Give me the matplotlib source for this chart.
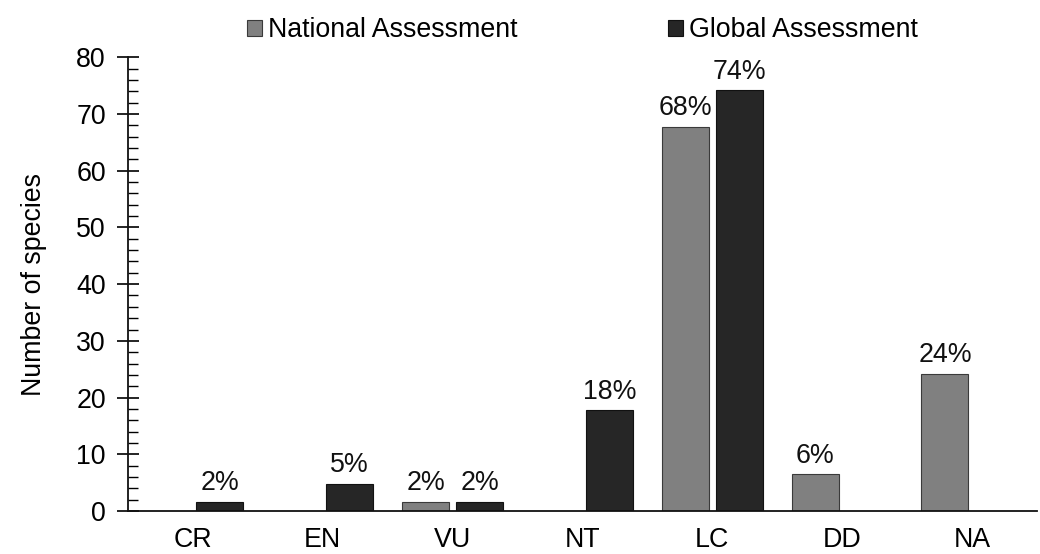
import numpy as np
import matplotlib
matplotlib.use("Agg")
import matplotlib.pyplot as plt
from matplotlib.ticker import MultipleLocator

plt.rcParams["font.family"] = ["Liberation Sans", "DejaVu Sans"]

# IUCN Red List categories and share of species (%) under each assessment (62 species)
categories = ["CR", "EN", "VU", "NT", "LC", "DD", "NA"]
national = [0.0, 0.0, 1.61, 0.0, 67.74, 6.45, 24.19]
global_ = [1.61, 4.84, 1.61, 17.74, 74.19, 0.0, 0.0]
series_names = ["National Assessment", "Global Assessment"]

FS = 19.3

fig = plt.figure(figsize=(10.4, 5.54), dpi=100)
ax = fig.add_axes([0.1231, 0.0776, 0.8739, 0.819])

x = np.arange(len(categories))
width = 0.362
offset = 0.2077
colors = ["#808080", "#262626"]
edges = ["#3a3a3a", "#111111"]

for vals, sign, col, ec, name in zip([national, global_], [-1, 1], colors, edges, series_names):
    vals = np.asarray(vals)
    keep = vals > 0
    bars = ax.bar(x[keep] + sign * offset, vals[keep], width=width, color=col,
                  edgecolor=ec, linewidth=0.8, label=name, zorder=2)
    ax.bar_label(bars, labels=[f"{v:.0f}%" for v in vals[keep]], padding=4,
                 fontsize=FS, color="#111111")

ax.set_xlim(-0.5, len(categories) - 0.5)
ax.set_ylim(0, 80)
ax.set_xticks(x)
ax.set_xticklabels(categories, fontsize=FS)
ax.tick_params(axis="x", length=0, pad=11.5)

ax.yaxis.set_major_locator(MultipleLocator(10))
ax.yaxis.set_minor_locator(MultipleLocator(2))
ax.tick_params(axis="y", which="major", direction="inout", length=16, width=1.2,
               labelsize=FS, pad=8)
ax.tick_params(axis="y", which="minor", direction="in", length=7, width=1.0)
ax.set_ylabel("Number of species", fontsize=FS, labelpad=21)

for side in ["top", "right"]:
    ax.spines[side].set_visible(False)
for side in ["left", "bottom"]:
    ax.spines[side].set_linewidth(1.3)
    ax.spines[side].set_color("#111111")

ax.legend(loc="center", bbox_to_anchor=(0.5, 1.06), ncol=2, frameon=False,
          fontsize=FS, handlelength=0.55, handleheight=0.55, handletextpad=0.25,
          columnspacing=5.6, borderaxespad=0)

fig.savefig("out.png", dpi=100)
